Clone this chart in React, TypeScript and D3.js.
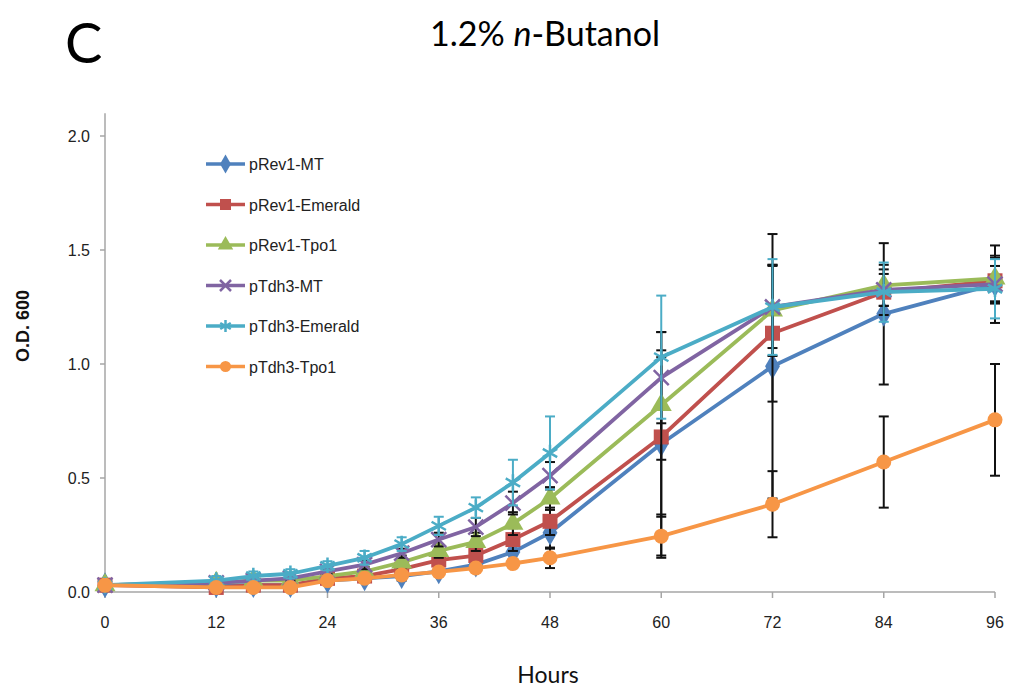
import React from "react";
import * as d3 from "d3";

const width = 1010;
const height = 689;

const hours = [0, 12, 16, 20, 24, 28, 32, 36, 40, 44, 48, 60, 72, 84, 96];
const xTicks = [0, 12, 24, 36, 48, 60, 72, 84, 96];
const yTicks = [0, 0.5, 1.0, 1.5, 2.0];

const seriesNames = ["pRev1-MT", "pRev1-Emerald", "pRev1-Tpo1", "pTdh3-MT", "pTdh3-Emerald", "pTdh3-Tpo1"];
const colors = ["#4f81bd", "#c0504d", "#9bbb59", "#8064a2", "#4bacc6", "#f79646"];
const markers = ["diamond", "square", "triangle", "times", "asterisk", "circle"];
const errColors = ["#111", "#111", "#111", "#111", "#4bacc6", "#111"];

const pRev1MT = [0.03, 0.03, 0.03, 0.03, 0.05, 0.06, 0.07, 0.09, 0.12, 0.175, 0.26, 0.65, 0.99, 1.22, 1.35];
const pRev1Emerald = [0.03, 0.02, 0.03, 0.03, 0.06, 0.07, 0.1, 0.14, 0.16, 0.23, 0.31, 0.68, 1.135, 1.315, 1.365];
const pRev1Tpo1 = [0.03, 0.04, 0.05, 0.05, 0.07, 0.09, 0.13, 0.18, 0.22, 0.3, 0.41, 0.82, 1.235, 1.345, 1.375];
const pTdh3MT = [0.03, 0.04, 0.05, 0.06, 0.09, 0.12, 0.17, 0.23, 0.285, 0.39, 0.51, 0.94, 1.25, 1.325, 1.35];
const pTdh3Emerald = [0.03, 0.05, 0.07, 0.08, 0.115, 0.15, 0.21, 0.29, 0.37, 0.48, 0.61, 1.03, 1.25, 1.315, 1.33];
const pTdh3Tpo1 = [0.03, 0.02, 0.02, 0.02, 0.05, 0.06, 0.075, 0.088, 0.105, 0.125, 0.15, 0.245, 0.385, 0.57, 0.755];

// standard deviations (error bars)
const errRev1MT = [0.01, 0.01, 0.01, 0.01, 0.01, 0.01, 0.02, 0.02, 0.03, 0.05, 0.07, 0.49, 0.58, 0.31, 0.17];
const errRev1Emerald = [0.01, 0.01, 0.01, 0.01, 0.01, 0.02, 0.02, 0.03, 0.04, 0.05, 0.06, 0.35, 0.3, 0.1, 0.1];
const errRev1Tpo1 = [0.01, 0.02, 0.01, 0.01, 0.01, 0.02, 0.03, 0.03, 0.04, 0.05, 0.05, 0.24, 0.2, 0.09, 0.1];
const errTdh3MT = [0.01, 0.01, 0.01, 0.01, 0.01, 0.02, 0.02, 0.03, 0.04, 0.05, 0.06, 0.2, 0.18, 0.07, 0.08];
const errTdh3Emerald = [0.01, 0.02, 0.02, 0.02, 0.02, 0.03, 0.03, 0.04, 0.045, 0.1, 0.16, 0.27, 0.21, 0.13, 0.13];
const errTdh3Tpo1 = [0.01, 0.01, 0.01, 0.01, 0.01, 0.01, 0.01, 0.01, 0.01, 0.02, 0.045, 0.095, 0.145, 0.2, 0.245];

const values = [pRev1MT, pRev1Emerald, pRev1Tpo1, pTdh3MT, pTdh3Emerald, pTdh3Tpo1];
const errors = [errRev1MT, errRev1Emerald, errRev1Tpo1, errTdh3MT, errTdh3Emerald, errTdh3Tpo1];

const x = d3.scaleLinear().domain([0, 96]).range([105, 995]);
const y = d3.scaleLinear().domain([0, 2]).range([592, 136]);

const line = d3
  .line<number>()
  .x((d, i) => x(hours[i]))
  .y((d) => y(d));

function Marker({ kind, color, cx, cy, s }: { kind: string; color: string; cx: number; cy: number; s: number }) {
  const t = `translate(${cx},${cy})`;
  if (kind === "times") {
    const r = s * 0.5;
    return <path transform={t} d={`M${-r},${-r}L${r},${r}M${-r},${r}L${r},${-r}`} stroke={color} strokeWidth={2.5} fill="none" />;
  }
  if (kind === "asterisk") {
    const r = s * 0.55;
    const a = r * 0.87;
    return (
      <path
        transform={t}
        d={`M0,${-r}L0,${r}M${-a},${-r / 2}L${a},${r / 2}M${-a},${r / 2}L${a},${-r / 2}`}
        stroke={color}
        strokeWidth={2.5}
        fill="none"
      />
    );
  }
  const type =
    kind === "diamond" ? d3.symbolDiamond : kind === "square" ? d3.symbolSquare : kind === "triangle" ? d3.symbolTriangle : d3.symbolCircle;
  const area = kind === "square" ? s * s : kind === "circle" ? Math.PI * (s / 2) * (s / 2) : s * s * 0.85;
  return <path transform={t} d={d3.symbol().type(type).size(area)() || ""} fill={color} />;
}

export default function App() {
  const axisColor = "#a6a6a6";
  const tickFont = "'Liberation Sans', Arial, sans-serif";
  return (
    <svg
      width={width}
      height={height}
      style={{ position: "absolute", left: 0, top: 0, display: "block", background: "#fff" }}
    >
      <text x={65} y={63} fontFamily="Lato, 'Open Sans', sans-serif" fontSize={56} fill="#000">
        C
      </text>
      <text x={545} y={46} textAnchor="middle" fontFamily="Lato, 'Open Sans', sans-serif" fontSize={34} fill="#000">
        1.2% <tspan fontStyle="italic">n</tspan>-Butanol
      </text>

      {/* axes */}
      <line x1={x(0)} x2={x(0)} y1={y(2.1)} y2={y(0)} stroke={axisColor} strokeWidth={1.5} />
      <line x1={x(0)} x2={x(96)} y1={y(0)} y2={y(0)} stroke={axisColor} strokeWidth={1.5} />
      {yTicks.map((t) => (
        <g key={t}>
          <line x1={x(0) - 5} x2={x(0)} y1={y(t)} y2={y(t)} stroke={axisColor} strokeWidth={1.5} />
          <text x={90} y={y(t) + 5.5} textAnchor="end" fontFamily={tickFont} fontSize={16} fill="#222">
            {t.toFixed(1)}
          </text>
        </g>
      ))}
      {xTicks.map((t) => (
        <g key={t}>
          <line x1={x(t)} x2={x(t)} y1={y(0)} y2={y(0) + 6} stroke={axisColor} strokeWidth={1.5} />
          <text x={x(t)} y={628} textAnchor="middle" fontFamily={tickFont} fontSize={16} fill="#222">
            {t}
          </text>
        </g>
      ))}
      <text
        transform={`translate(29,326) rotate(-90)`}
        textAnchor="middle"
        fontFamily={tickFont}
        fontWeight="bold"
        fontSize={18}
        fill="#111"
      >
        O.D. 600
      </text>
      <text x={548} y={683} textAnchor="middle" fontFamily="Lato, 'Open Sans', sans-serif" fontSize={23} fill="#111">
        Hours
      </text>

      {/* series */}
      {values.map((vals, si) => (
        <g key={si}>
          {vals.map((v, i) => {
            const e = errors[si][i];
            const cx = x(hours[i]);
            return (
              <g key={i} stroke={errColors[si]} strokeWidth={2}>
                <line x1={cx} x2={cx} y1={y(v + e)} y2={y(v - e)} />
                <line x1={cx - 5} x2={cx + 5} y1={y(v + e)} y2={y(v + e)} />
                <line x1={cx - 5} x2={cx + 5} y1={y(v - e)} y2={y(v - e)} />
              </g>
            );
          })}
          <path d={line(vals) || ""} fill="none" stroke={colors[si]} strokeWidth={3.8} strokeLinejoin="round" />
          {vals.map((v, i) => (
            <Marker key={i} kind={markers[si]} color={colors[si]} cx={x(hours[i])} cy={y(v)} s={15} />
          ))}
        </g>
      ))}

      {/* legend */}
      {seriesNames.map((name, i) => {
        const ly = 164 + i * 40.5;
        return (
          <g key={name}>
            <line x1={206} x2={245} y1={ly} y2={ly} stroke={colors[i]} strokeWidth={3.5} />
            <Marker kind={markers[i]} color={colors[i]} cx={225.5} cy={ly} s={11} />
            <text x={249} y={ly + 6} fontFamily={tickFont} fontSize={16} fill="#222">
              {name}
            </text>
          </g>
        );
      })}
    </svg>
  );
}
